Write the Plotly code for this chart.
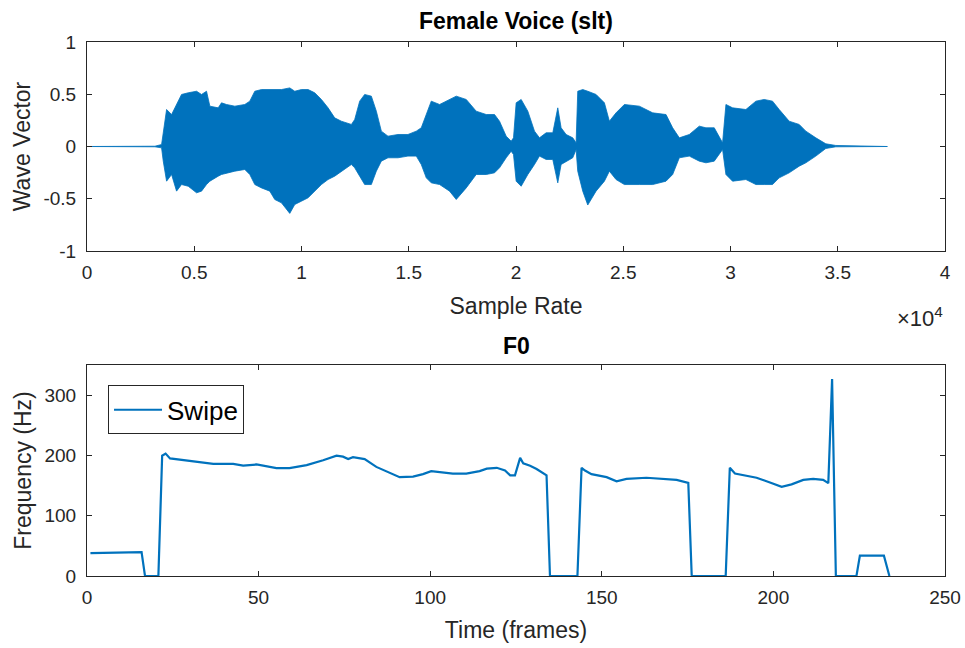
import plotly.graph_objects as go
from plotly.subplots import make_subplots

# ---- Top panel: waveform envelope (sample index, upper, lower) ----
wave_s = [0, 3166, 3477, 3555, 3710, 3943, 4175, 4408, 4719, 5107, 5340, 5572, 5728, 6116,
          6271, 6504, 6892, 7357, 7590, 7823, 8134, 8522, 8754, 9065, 9453, 9686, 9996,
          10307, 10617, 10928, 11238, 11548, 11859, 12325, 12480, 12713, 12945, 13256,
          13489, 13722, 14032, 14498, 14963, 15351, 15584, 15817, 16050, 16438, 16903,
          17214, 17680, 18145, 18611, 18999, 19232, 19542, 19775, 19884, 20008, 20241,
          20551, 20862, 21094, 21405, 21715, 21948, 22103, 22336, 22646, 22802, 22879,
          23112, 23345, 23733, 24121, 24354, 24664, 25053, 25751, 26372, 26993, 27303,
          27614, 28079, 28545, 28855, 29243, 29631, 29787, 30097, 30718, 31184, 31572,
          31959, 32270, 32736, 33202, 33512, 33978, 34443, 34909, 37315]
wave_top = [0, 0.003, 0.019, 0.147, 0.354, 0.306, 0.402, 0.498, 0.514, 0.529, 0.498, 0.529,
            0.386, 0.37, 0.418, 0.402, 0.386, 0.402, 0.434, 0.529, 0.545, 0.545, 0.545,
            0.545, 0.561, 0.529, 0.545, 0.545, 0.514, 0.45, 0.37, 0.274, 0.242, 0.211,
            0.258, 0.434, 0.498, 0.482, 0.338, 0.147, 0.099, 0.115, 0.115, 0.147, 0.179,
            0.306, 0.434, 0.402, 0.45, 0.482, 0.45, 0.338, 0.306, 0.306, 0.242, 0.099,
            0.051, 0.083, 0.418, 0.45, 0.338, 0.147, 0.083, 0.131, 0.131, 0.37, 0.179,
            0.115, 0.083, 0.035, 0.529, 0.545, 0.529, 0.498, 0.418, 0.242, 0.322, 0.402,
            0.386, 0.322, 0.306, 0.179, 0.083, 0.115, 0.195, 0.179, 0.179, 0.035, 0.402,
            0.37, 0.354, 0.434, 0.45, 0.434, 0.354, 0.242, 0.211, 0.147, 0.083, 0.026,
            0.01, 0]
wave_bot = [0, -0.003, -0.013, -0.14, -0.332, -0.268, -0.427, -0.364, -0.38, -0.443, -0.427,
            -0.364, -0.332, -0.284, -0.268, -0.252, -0.236, -0.22, -0.268, -0.364, -0.396,
            -0.427, -0.507, -0.539, -0.64, -0.555, -0.523, -0.491, -0.427, -0.364, -0.316,
            -0.284, -0.236, -0.172, -0.204, -0.284, -0.364, -0.364, -0.236, -0.14, -0.108,
            -0.108, -0.092, -0.092, -0.172, -0.30, -0.348, -0.364, -0.427, -0.507, -0.396,
            -0.268, -0.268, -0.252, -0.204, -0.108, -0.045, -0.077, -0.332, -0.38, -0.268,
            -0.172, -0.092, -0.124, -0.124, -0.348, -0.172, -0.14, -0.108, -0.029, -0.236,
            -0.427, -0.56, -0.427, -0.332, -0.236, -0.316, -0.364, -0.364, -0.364, -0.332,
            -0.268, -0.108, -0.092, -0.14, -0.156, -0.14, -0.029, -0.268, -0.332, -0.316,
            -0.364, -0.364, -0.364, -0.30, -0.252, -0.188, -0.156, -0.092, -0.019, -0.003, 0]

wave_xticks = [0, 5000, 10000, 15000, 20000, 25000, 30000, 35000, 40000]
wave_xticktext = ["0", "0.5", "1", "1.5", "2", "2.5", "3", "3.5", "4"]
wave_yticks = [-1, -0.5, 0, 0.5, 1]
wave_yticktext = ["-1", "-0.5", "0", "0.5", "1"]

# ---- Bottom panel: F0 (Swipe) ----
f0_t = [1, 15.9, 16.9, 20.8, 21.9, 22.9, 24.2, 28.1, 32.9, 36.8, 42.6, 45.5, 49.4, 51.3,
        55.2, 59, 64, 68.8, 72.7, 74.6, 76.1, 77.5, 80.9, 84.3, 87.7, 91.1, 95, 97.9, 100.3,
        103.7, 106.6, 110.5, 114.4, 116.5, 119.4, 121.8, 123.3, 124.7, 126.2, 127.1, 129.1,
        131, 133.9, 134.9, 142.9, 144.1, 145.1, 147.0, 151.4, 154.3, 157.2, 163, 167.9,
        171.8, 175.2, 176.2, 186.1, 187.3, 188.8, 191.2, 195.1, 199, 202.4, 205.3, 208.7,
        211.6, 214.5, 216, 217.1, 218.2, 224.2, 225.2, 232.2, 233.8]
f0_hz = [38, 39.5, 0, 0, 199.5, 203, 195, 192, 189, 186, 186, 183, 185, 183,
         179, 179, 184, 192, 199.5, 198, 194, 197, 194, 181, 173, 164, 165, 169, 174,
         172, 170, 170, 174, 178, 179.5, 175, 167, 167, 196, 187, 183,
         177.5, 167, 0, 0, 179.5, 175, 169, 164, 157, 161, 163, 161,
         159.5, 154.5, 0, 0, 179.5, 170, 167, 163, 155, 148, 152, 159.5,
         161, 159.5, 154, 326.7, 0, 0, 33.7, 33.7, 0]
f0_xticks = [0, 50, 100, 150, 200, 250]
f0_yticks = [0, 100, 200, 300]

BLUE = "#0072BD"
TXT = "#262626"
FONT = "Liberation Sans, Arial, sans-serif"
TICK = 19
LAB = 23

fig = make_subplots(rows=2, cols=1, vertical_spacing=0.2)

poly_x = wave_s + wave_s[::-1]
poly_y = wave_top + wave_bot[::-1]
fig.add_trace(go.Scatter(x=poly_x, y=poly_y, mode="lines", fill="toself",
                         fillcolor=BLUE, line=dict(color=BLUE, width=0.8),
                         showlegend=False, hoverinfo="skip"), row=1, col=1)

fig.add_trace(go.Scatter(x=f0_t, y=f0_hz, mode="lines", name="Swipe",
                         line=dict(color=BLUE, width=2.2)), row=2, col=1)

axcommon = dict(showline=True, linecolor=TXT, linewidth=1, mirror="ticks", automargin=False,
                ticks="inside", ticklen=5, tickcolor=TXT, showgrid=False, zeroline=False,
                tickfont=dict(family=FONT, size=TICK, color=TXT))

fig.update_xaxes(**axcommon, ticklabelstandoff=4)
fig.update_yaxes(**axcommon, ticklabelstandoff=6)

fig.update_xaxes(row=1, col=1, range=[0, 40000], tickvals=wave_xticks, ticktext=wave_xticktext,
                 title=dict(text="Sample Rate", font=dict(family=FONT, size=LAB, color=TXT), standoff=16))
fig.update_yaxes(row=1, col=1, range=[-1, 1], tickvals=wave_yticks, ticktext=wave_yticktext,
                 title=dict(text="Wave Vector", font=dict(family=FONT, size=LAB, color=TXT), standoff=6))
fig.update_xaxes(row=2, col=1, range=[0, 250], tickvals=f0_xticks,
                 title=dict(text="Time (frames)", font=dict(family=FONT, size=LAB, color=TXT), standoff=15))
fig.update_yaxes(row=2, col=1, range=[0, 350], tickvals=f0_yticks,
                 title=dict(text="Frequency (Hz)", font=dict(family=FONT, size=LAB, color=TXT), standoff=6))

fig.update_layout(
    width=965, height=648,
    margin=dict(l=87, r=20, t=42, b=72),
    paper_bgcolor="white", plot_bgcolor="white",
    font=dict(family=FONT, color=TXT),
    xaxis=dict(domain=[0, 1]), xaxis2=dict(domain=[0, 1]),
    yaxis=dict(domain=[0.6086, 1]), yaxis2=dict(domain=[0, 0.3951]),
    legend=dict(x=0.0245, y=0.357, xanchor="left", yanchor="top", itemwidth=48,
                bgcolor="white", bordercolor=TXT, borderwidth=1,
                font=dict(family=FONT, size=26, color="#000000")),
    showlegend=True,
    annotations=[
        dict(text="<b>Female Voice (slt)</b>", x=0.5, y=1, xref="paper", yref="paper",
             yanchor="bottom", yshift=6, showarrow=False,
             font=dict(family=FONT, size=LAB, color="#000000")),
        dict(text="<b>F0</b>", x=0.5, y=0.3951, xref="paper", yref="paper",
             yanchor="bottom", yshift=4, showarrow=False,
             font=dict(family=FONT, size=LAB, color="#000000")),
        dict(text="×10<sup>4</sup>", x=1, y=0.6086, xref="paper", yref="paper",
             xanchor="right", yanchor="top", yshift=-50, showarrow=False,
             font=dict(family=FONT, size=22, color=TXT)),
    ],
)

fig.write_html("out.html")
